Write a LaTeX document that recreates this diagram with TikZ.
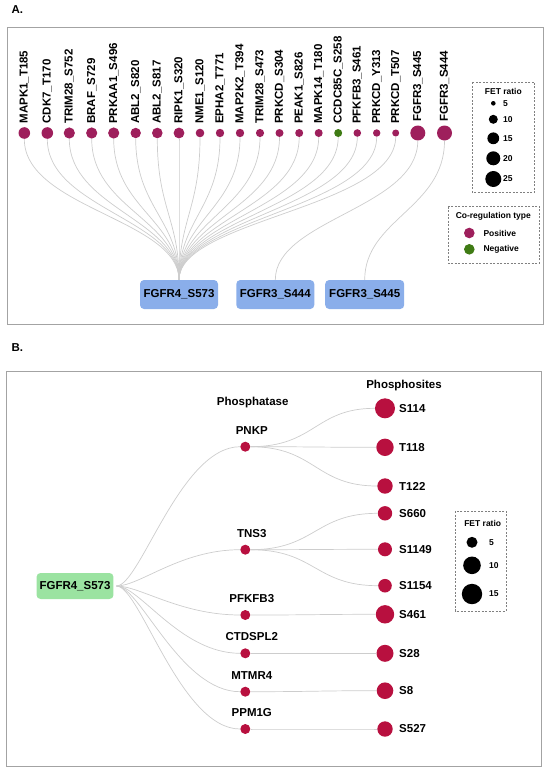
\documentclass[tikz,border=0pt]{standalone}
\usepackage{fontspec}
\setmainfont{Liberation Sans}
\usepackage{tikz}

\definecolor{posred}{HTML}{9E1F5C}
\definecolor{neggreen}{HTML}{3F7B14}
\definecolor{sitered}{HTML}{B8103F}
\definecolor{boxblue}{HTML}{8AAEEA}
\definecolor{boxgreen}{HTML}{9BE3A1}
\definecolor{linkgray}{HTML}{CDCDCD}
\definecolor{framegray}{HTML}{A3A3A3}

\begin{document}
\begin{tikzpicture}[x=1pt, y=-1pt, font=\fontsize{11.5}{13}\selectfont\bfseries,
    dot/.style={circle, inner sep=0, minimum size=#1},
    link/.style={linkgray, line width=0.7pt},
    panel/.style={framegray, line width=1pt},
    legendbox/.style={gray, dash pattern=on 2pt off 1.5pt, line width=0.5pt},
    small/.style={font=\fontsize{8.5}{10}\selectfont\bfseries},
    sitebox/.style={rounded corners=4pt, minimum height=29pt, inner xsep=3pt}]
    \useasboundingbox (0,0) rectangle (550,774);

    % Panel A
    \node at (17.3,9.2) {A.};
    \draw[panel] (7.3,27.7) rectangle (543.3,324.3);

    % Kinase sites with rotated names
    \foreach \x/\r/\c/\name [count=\i] in {24.3/5.8/posred/MAPK1\_T185, 47.3/5.8/posred/CDK7\_T170,
        69.3/5.6/posred/TRIM28\_S752, 91.7/5.6/posred/BRAF\_S729, 113.7/5.6/posred/PRKAA1\_S496,
        135.7/5.2/posred/ABL2\_S820, 157.3/5.3/posred/ABL2\_S817, 179/5.4/posred/RIPK1\_S320,
        200/4.3/posred/NME1\_S120, 220/4.2/posred/EPHA2\_T771, 240/4.2/posred/MAP2K2\_T394,
        260/4.1/posred/TRIM28\_S473, 279.5/4/posred/PRKCD\_S304, 299.2/4/posred/PEAK1\_S826,
        318.7/4/posred/MAPK14\_T180, 338.2/4/neggreen/CCDC85C\_S258, 357.3/3.8/posred/PFKFB3\_S461,
        376.7/3.7/posred/PRKCD\_Y313, 395.7/3.5/posred/PRKCD\_T507, 417.8/7.5/posred/FGFR3\_S445,
        444.5/7.5/posred/FGFR3\_S444} {
        \node[dot=2*\r pt, fill=\c] (p\i) at (\x,133) {};
        \pgfmathsetmacro\ly{min(124,129.5-\r)}
        \node[rotate=90, anchor=west, inner sep=0] at (\x,\ly) {\name};
    }

    % Target boxes
    \node[sitebox, fill=boxblue, minimum width=78pt] (b573) at (179,294.5) {FGFR4\_S573};
    \node[sitebox, fill=boxblue, minimum width=78pt] (b444) at (275.3,294.5) {FGFR3\_S444};
    \node[sitebox, fill=boxblue, minimum width=79pt] (b445) at (364.7,294.5) {FGFR3\_S445};

    % Links
    \foreach \i in {1,...,19} {
        \draw[link] (p\i) .. controls +(0,75) and +(0,-75) .. (b573);
    }
    \draw[link] (p20) .. controls +(0,75) and +(0,-75) .. (b444);
    \draw[link] (p21) .. controls +(0,75) and +(0,-75) .. (b445);

    % Legend: FET ratio
    \draw[legendbox] (472.3,82.3) rectangle (534.7,192.3);
    \node[small] at (503.3,91.7) {FET ratio};
    \foreach \y/\r/\v in {103.3/2.3/5, 119.3/4.5/10, 138.3/5.9/15, 158.3/7/20, 179/8/25} {
        \node[dot=2*\r pt, fill=black] at (493.3,\y) {};
        \node[small, anchor=west, inner sep=0] at (503,\y) {\v};
    }

    % Legend: co-regulation type
    \draw[legendbox] (448.3,206.7) rectangle (539.3,263.3);
    \node[small] at (493.3,216.7) {Co-regulation type};
    \node[dot=10.6pt, fill=posred] at (469.3,233) {};
    \node[small, anchor=west, inner sep=0] at (483.3,233) {Positive};
    \node[dot=10.6pt, fill=neggreen] at (469.3,249.3) {};
    \node[small, anchor=west, inner sep=0] at (483.3,249.3) {Negative};

    % Panel B
    \node at (17.3,347.5) {B.};
    \draw[panel] (6.7,371.7) rectangle (541,766.7);
    \node at (252.7,402.7) {Phosphatase};
    \node at (404,385.7) {Phosphosites};

    \node[sitebox, fill=boxgreen, minimum width=75pt, minimum height=26pt, outer sep=3pt] (root) at (75,586) {FGFR4\_S573};

    % Phosphatases
    \foreach \name/\y [count=\j] in {PNKP/446.7, TNS3/549.7, PFKFB3/615, CTDSPL2/653.3, MTMR4/691.7, PPM1G/729} {
        \node[dot=10pt, fill=sitered, label={[label distance=3.5pt, xshift=6.5pt]above:\name}] (f\j) at (245.3,\y) {};
        \draw[link] (root) .. controls +(65,0) and +(-65,0) .. (f\j);
    }

    % Phosphosites
    \foreach \name/\y/\r/\p in {S114/408.3/10/1, T118/447.3/8.7/1, T122/486/7.7/1,
        S660/513.3/7.2/2, S1149/549.3/7/2, S1154/585.7/6.8/2, S461/614.3/9.2/3,
        S28/653.3/8.5/4, S8/690.7/8.3/5, S527/729/7.7/6} {
        \node[dot=2*\r pt, fill=sitered] (s\name) at (385,\y) {};
        \node[anchor=west, inner sep=0] at (399,\y) {\name};
        \draw[link] (f\p) .. controls +(70,0) and +(-70,0) .. (s\name);
    }

    % Legend: FET ratio
    \draw[legendbox] (455.7,511) rectangle (506,611);
    \node[small] at (482.7,523.3) {FET ratio};
    \foreach \y/\r/\v in {542.3/5.5/5, 565.3/8.8/10, 594/10.2/15} {
        \node[dot=2*\r pt, fill=black] at (472,\y) {};
        \node[small, anchor=west, inner sep=0] at (489,\y) {\v};
    }
\end{tikzpicture}
\end{document}
